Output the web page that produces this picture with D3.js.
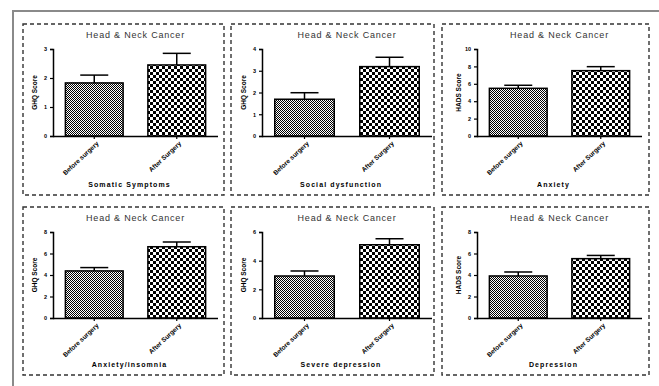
<!DOCTYPE html>
<html><head><meta charset="utf-8">
<script src="https://cdn.jsdelivr.net/npm/d3@7"></script>
<style>
html,body{margin:0;padding:0;background:#fff;}
svg{display:block;font-family:"Liberation Sans",Arial,sans-serif;}
</style></head>
<body>
<script>
// ---- data ----
const panelTitles = ["Head & Neck Cancer","Head & Neck Cancer","Head & Neck Cancer","Head & Neck Cancer","Head & Neck Cancer","Head & Neck Cancer"];
const xTitles = ["Somatic Symptoms","Social dysfunction","Anxiety","Anxiety/insomnia","Severe depression","Depression"];
const yTitles = ["GHQ Score","GHQ Score","HADS Score","GHQ Score","GHQ Score","HADS Score"];
const categories = ["Before surgery","After Surgery"];
const yMax = [3,4,10,8,6,8];
const yTicks = [[0,1,2,3],[0,1,2,3,4],[0,2,4,6,8,10],[0,2,4,6,8],[0,2,4,6],[0,2,4,6,8]];
const beforeVals = [1.83,1.69,5.48,4.38,2.93,3.91];
const beforeErr  = [0.27,0.30,0.35,0.31,0.35,0.37];
const afterVals  = [2.45,3.19,7.51,6.63,5.11,5.52];
const afterErr   = [0.40,0.43,0.46,0.44,0.42,0.30];

// ---- layout ----
const W=659,H=386;
const svg=d3.select("body").append("svg").attr("width",W).attr("height",H);
const defs=svg.append("defs");
// fine checker
const p1=defs.append("pattern").attr("id","fine").attr("patternUnits","userSpaceOnUse").attr("width",2).attr("height",2);
p1.append("rect").attr("width",2).attr("height",2).attr("fill","#fff");
p1.append("rect").attr("width",1).attr("height",1).attr("fill","#000");
p1.append("rect").attr("x",1).attr("y",1).attr("width",1).attr("height",1).attr("fill","#000");
// coarse checker
const p2=defs.append("pattern").attr("id","coarse").attr("patternUnits","userSpaceOnUse").attr("width",6).attr("height",6);
p2.append("rect").attr("width",6).attr("height",6).attr("fill","#fff");
p2.append("rect").attr("width",3).attr("height",3).attr("fill","#000");
p2.append("rect").attr("x",3).attr("y",3).attr("width",3).attr("height",3).attr("fill","#000");

// outer grey frame
svg.append("path").attr("d",`M${W+5},11 H13 V${H+5}`).attr("fill","none").attr("stroke","#8a8a8a").attr("stroke-width",2);

const cols=[[23,224],[231,434],[442,649]];
const rows=[[24,195],[207,375]];
const yAxOff=[30,31,35];
const axEndOff=[6,2,7];

for(let i=0;i<6;i++){
  const c=i%3, r=Math.floor(i/3);
  const [x0,x1]=cols[c], [y0,y1]=rows[r];
  const g=svg.append("g");
  g.append("rect").attr("x",x0).attr("y",y0).attr("width",x1-x0).attr("height",y1-y0)
    .attr("fill","none").attr("stroke","#333").attr("stroke-width",1.4).attr("stroke-dasharray","4,3");
  const ax=x0+yAxOff[c], axEnd=x1-axEndOff[c];
  const top=y0+25, bot=y0+(r===0?112:111);
  const y=d3.scaleLinear().domain([0,yMax[i]]).range([bot,top]);
  const x=d3.scaleBand().domain(categories).range([ax,axEnd]).paddingInner(0.3).paddingOuter(0.15);

  // title
  g.append("text").attr("x",(ax+axEnd)/2).attr("y",y0+14).attr("text-anchor","middle")
    .attr("font-size",9).attr("letter-spacing",0.8).attr("fill","#333").text(panelTitles[i]);

  const data=[{k:categories[0],v:beforeVals[i],e:beforeErr[i],f:"url(#fine)"},
              {k:categories[1],v:afterVals[i],e:afterErr[i],f:"url(#coarse)"}];
  // error bars
  data.forEach(d=>{
    const cx=x(d.k)+x.bandwidth()/2;
    g.append("line").attr("x1",cx).attr("x2",cx).attr("y1",y(d.v)).attr("y2",y(d.v+d.e)).attr("stroke","#000").attr("stroke-width",1.5);
    g.append("line").attr("x1",cx-14).attr("x2",cx+14).attr("y1",y(d.v+d.e)).attr("y2",y(d.v+d.e)).attr("stroke","#000").attr("stroke-width",1.5);
  });
  // bars
  g.selectAll("rect.bar").data(data).join("rect").attr("class","bar")
    .attr("x",d=>x(d.k)).attr("width",x.bandwidth()).attr("y",d=>y(d.v)).attr("height",d=>y(0)-y(d.v))
    .attr("fill",d=>d.f).attr("stroke","#000").attr("stroke-width",1.5);

  // y axis
  const ya=g.append("g").attr("transform",`translate(${ax},0)`).call(d3.axisLeft(y).tickValues(yTicks[i]).tickSize(3).tickPadding(3).tickFormat(d3.format("d")));
  ya.select(".domain").attr("stroke","#000").attr("stroke-width",1.5);
  ya.selectAll(".tick line").attr("stroke","#000").attr("stroke-width",1.2);
  ya.selectAll("text").attr("font-size",5.5).attr("font-weight","bold").attr("font-family","Liberation Sans, Arial");
  // x axis
  const xa=g.append("g").attr("transform",`translate(0,${bot})`).call(d3.axisBottom(x).tickSize(3).tickSizeOuter(0));
  xa.select(".domain").attr("d",`M${ax},0.5H${axEnd}`).attr("stroke","#000").attr("stroke-width",1.5);
  xa.selectAll(".tick line").attr("stroke","#000").attr("stroke-width",1.2);
  xa.selectAll("text").attr("font-size",6.5).attr("font-weight","bold").attr("font-family","Liberation Sans, Arial")
    .attr("text-anchor","end").attr("dy",0).attr("y",0)
    .attr("transform","translate(5,8) rotate(-43)");

  // y title
  g.append("text").attr("transform",`translate(${ax-16},${(top+bot)/2}) rotate(-90)`).attr("text-anchor","middle")
    .attr("font-size",6.5).attr("font-weight","bold").attr("fill","#000").text(yTitles[i]);
  // x title
  g.append("text").attr("x",(ax+axEnd)/2-6).attr("y",y1-8).attr("text-anchor","middle")
    .attr("font-size",7).attr("font-weight","bold").attr("letter-spacing",1.1).attr("fill","#000").text(xTitles[i]);
}
</script>
</body></html>
